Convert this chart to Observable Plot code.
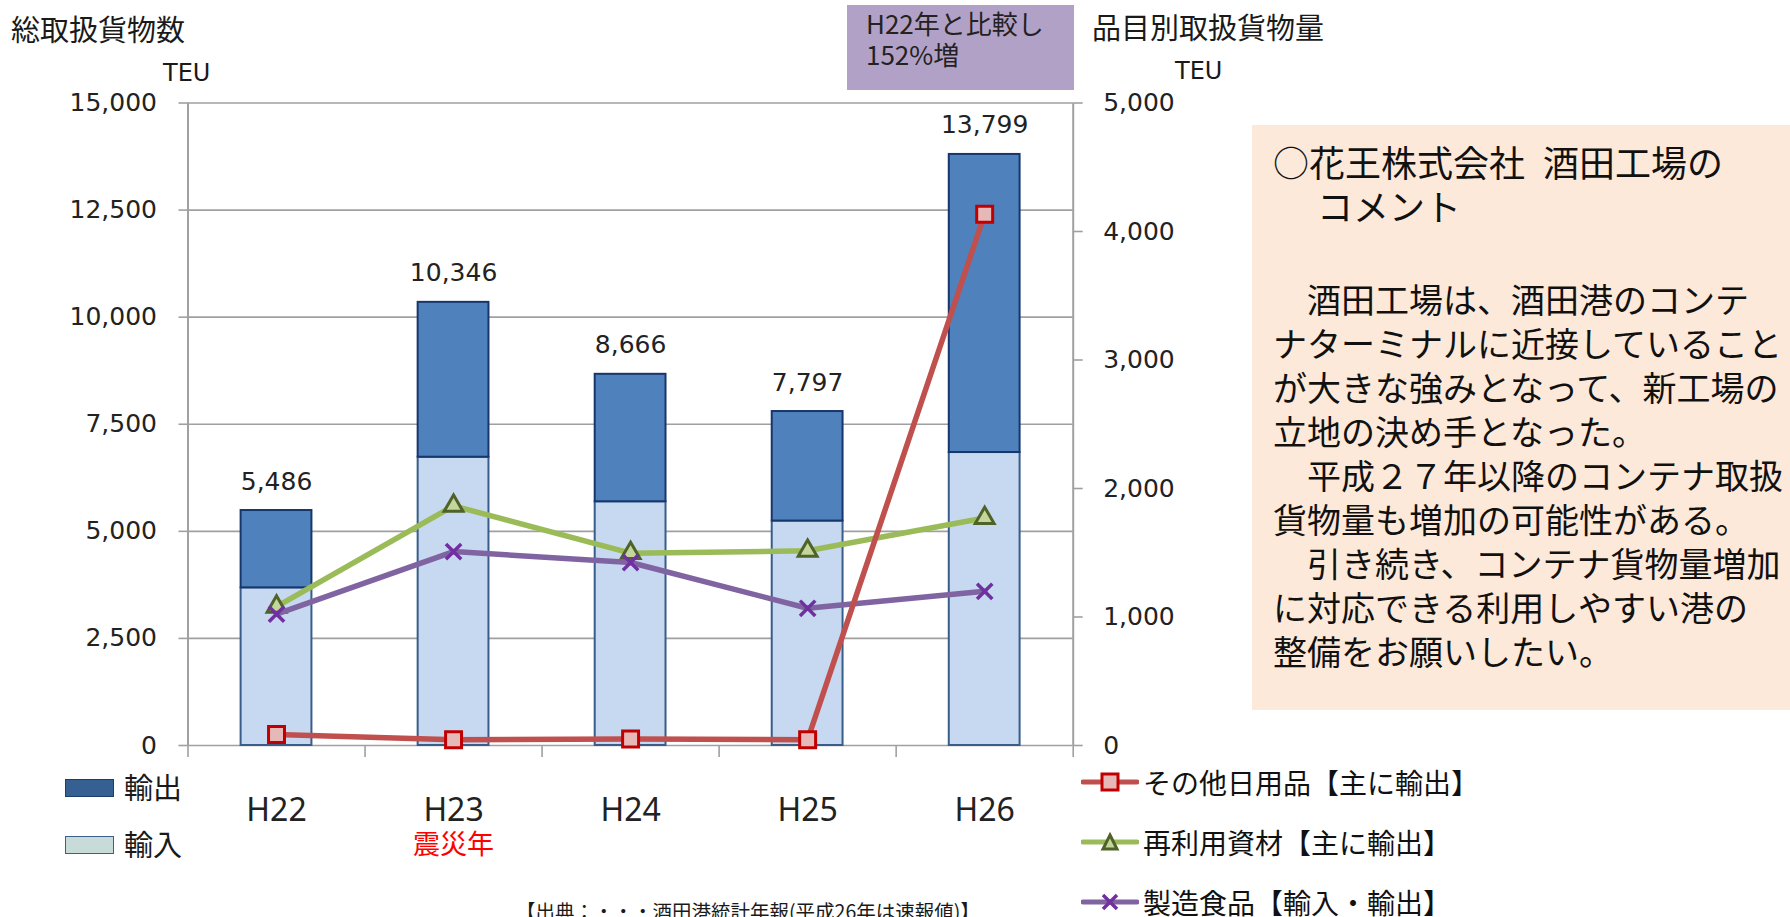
<!DOCTYPE html>
<html lang="ja">
<head>
<meta charset="utf-8">
<script src="https://cdn.jsdelivr.net/npm/d3@7"></script>
<script src="https://cdn.jsdelivr.net/npm/@observablehq/plot@0.6"></script>
<style>
  html, body { margin: 0; padding: 0; background: #fff; }
  #wrap { position: relative; width: 1790px; height: 917px; overflow: hidden; background: #fff; }
  #chart { position: absolute; left: 0; top: 0; }
  .abs { position: absolute; white-space: pre; color: #1a1a1a; }
  .jp { font-family: "Noto Sans CJK JP", "Noto Sans", sans-serif; }
  .dv { font-family: "DejaVu Sans", sans-serif; }
  #note { position: absolute; left: 847px; top: 5px; width: 227px; height: 85px; background: #b2a1c7;
          box-sizing: border-box; padding: 2px 0 0 19px; font-size: 26px; line-height: 31px; color: #222; }
  #comment { position: absolute; left: 1252px; top: 125px; width: 538px; height: 585px; background: #fde9d9;
             box-sizing: border-box; padding: 14px 0 0 21px; font-size: 34px; line-height: 44px; color: #111; }
  #comment div { white-space: pre; height: 44px; }
  #comment div.head { font-size: 36px; }
  #comment div.blank { height: 50px; }
  .sw { position: absolute; width: 49px; height: 18px; box-sizing: border-box; }
  .leg { position: absolute; display: flex; align-items: center; height: 40px; }
  .leg svg { display: block; }
  .leg span { font-size: 28px; line-height: 28px; margin-left: 4px; color: #111; white-space: pre; }
</style>
</head>
<body>
<div id="wrap">
  <div id="chart"></div>
</div>
<script>
// ---------- data ----------
const categories = ["H22", "H23", "H24", "H25", "H26"];
const importTEU  = [3680, 6730, 5690, 5240, 6840];   // 輸入
const exportTEU  = [1806, 3616, 2976, 2557, 6959];   // 輸出
const totalTEU   = [5486, 10346, 8666, 7797, 13799]; // 総取扱貨物数

const dailyGoods = [85, 45, 50, 45, 4135];           // その他日用品【主に輸出】
const recycled   = [1080, 1865, 1497, 1515, 1770];   // 再利用資材【主に輸出】
const foods      = [1023, 1509, 1424, 1068, 1200];   // 製造食品【輸入・輸出】

const leftTicks  = [0, 2500, 5000, 7500, 10000, 12500, 15000];
const rightTicks = [0, 1000, 2000, 3000, 4000, 5000];
const leftMax = 15000, rightMax = 5000;
const ratio = leftMax / rightMax;

const notes = [{category: "H23", text: "震災年"}];

const lineSeries = [
  {name: "再利用資材【主に輸出】", values: recycled, color: "#9bbb59", symbol: "triangle", fill: "#c3d69b", mstroke: "#4f6228"},
  {name: "製造食品【輸入・輸出】", values: foods, color: "#8064a2", symbol: "times", fill: "none", mstroke: "#7030a0"},
  {name: "その他日用品【主に輸出】", values: dailyGoods, color: "#c0504d", symbol: "square", fill: "#e6b9b8", mstroke: "#c00000"}
];

// ---------- chart ----------
const idx = categories.map((c, i) => i);
const fmt = d3.format(",");
const grey = "#a0a0a0";

const marks = [
  Plot.ruleY(leftTicks, {stroke: grey, strokeWidth: 1.6}),
  Plot.ruleX([0, categories.length], {stroke: grey, strokeWidth: 2}),
  Plot.axisY({anchor: "left", ticks: leftTicks, tickSize: 9, tickPadding: 22, tickFormat: fmt,
              stroke: grey, strokeWidth: 1.6, fill: "#222", fontSize: 25, label: null}),
  Plot.axisY({anchor: "right", ticks: rightTicks.map(v => v * ratio), tickSize: 9, tickPadding: 21,
              tickFormat: d => fmt(d / ratio), stroke: grey, strokeWidth: 1.6, fill: "#222", fontSize: 25, label: null}),
  Plot.axisX({ticks: d3.range(categories.length + 1), tickSize: 12, tickFormat: () => "",
              stroke: grey, strokeWidth: 1.6, label: null}),
  Plot.axisX({ticks: idx.map(i => i + 0.5), tickSize: 0, tickPadding: 53,
              tickFormat: v => categories[Math.round(v - 0.5)], fill: "#222",
              fontFamily: "Noto Sans", fontSize: 32, label: null}),
  Plot.text(notes, {x: d => categories.indexOf(d.category) + 0.5, y: 0, text: "text", dy: 100,
                    fill: "#ff0000", fontFamily: "Noto Sans CJK JP", fontSize: 27}),
  // stacked bars
  Plot.rect(idx, {x1: i => i + 0.3, x2: i => i + 0.7, y1: 0, y2: i => importTEU[i],
                  fill: "#c6d9f1", stroke: "#385d8a", strokeWidth: 2}),
  Plot.rect(idx, {x1: i => i + 0.3, x2: i => i + 0.7, y1: i => importTEU[i], y2: i => importTEU[i] + exportTEU[i],
                  fill: "#4f81bd", stroke: "#17366b", strokeWidth: 2}),
  Plot.text(idx, {x: i => i + 0.5, y: i => totalTEU[i], text: i => fmt(totalTEU[i]), dy: -29,
                  fill: "#222", fontSize: 25, fontFamily: "DejaVu Sans"})
];

for (const s of lineSeries) {
  marks.push(Plot.line(idx, {x: i => i + 0.5, y: i => s.values[i] * ratio, stroke: s.color, strokeWidth: 5.5,
                             strokeLinejoin: "round"}));
  marks.push(Plot.dot(idx, {x: i => i + 0.5, y: i => s.values[i] * ratio, symbol: s.symbol,
                            r: s.symbol === "square" ? 9 : 7, fill: s.fill, stroke: s.mstroke,
                            strokeWidth: s.symbol === "times" ? 3.5 : 3}));
}

const chart = Plot.plot({
  width: 1790, height: 917,
  marginLeft: 187.5, marginRight: 717.3, marginTop: 102.5, marginBottom: 172,
  x: {type: "linear", domain: [0, categories.length], axis: null},
  y: {type: "linear", domain: [0, leftMax], axis: null},
  style: {fontFamily: "DejaVu Sans", fontSize: "25px", background: "transparent", overflow: "visible", color: "#222"},
  marks
});
document.getElementById("chart").appendChild(chart);

// ---------- text overlays & legends ----------
const wrap = document.getElementById("wrap");
function addText(txt, cls, left, top, size, extra) {
  const d = document.createElement("div");
  d.className = "abs " + cls;
  d.textContent = txt;
  d.style.left = left + "px";
  d.style.top = top + "px";
  d.style.fontSize = size + "px";
  d.style.lineHeight = size + "px";
  if (extra) Object.assign(d.style, extra);
  wrap.appendChild(d);
  return d;
}
addText("総取扱貨物数", "jp", 11, 14, 29);
addText("品目別取扱貨物量", "jp", 1092, 12, 29);
addText("TEU", "dv", 163, 61, 24);
addText("TEU", "dv", 1175, 59, 24);

const note = document.createElement("div");
note.id = "note"; note.className = "jp";
note.innerHTML = "H22年と比較し<br>152%増";
wrap.appendChild(note);

const commentLines = [
  "○花王株式会社\u2002酒田工場の",
  "　 コメント",
  "",
  "　酒田工場は、酒田港のコンテ",
  "ナターミナルに近接していること",
  "が大きな強みとなって、新工場の",
  "立地の決め手となった。",
  "　平成２７年以降のコンテナ取扱",
  "貨物量も増加の可能性がある。",
  "　引き続き、コンテナ貨物量増加",
  "に対応できる利用しやすい港の",
  "整備をお願いしたい。"
];
const comment = document.createElement("div");
comment.id = "comment"; comment.className = "jp";
commentLines.forEach((l, k) => {
  const d = document.createElement("div");
  if (l === "") d.className = "blank";
  else if (k < 2) d.className = "head";
  d.textContent = l;
  comment.appendChild(d);
});
wrap.appendChild(comment);

// left legend (bars)
const barLegend = [
  {name: "輸出", fill: "#376092", stroke: "#1f3d6b", top: 779},
  {name: "輸入", fill: "#c7dbd9", stroke: "#3d5f8c", top: 836}
];
for (const b of barLegend) {
  const sw = document.createElement("div");
  sw.className = "sw";
  sw.style.left = "65px"; sw.style.top = b.top + "px";
  sw.style.background = b.fill; sw.style.border = "1.5px solid " + b.stroke;
  wrap.appendChild(sw);
  addText(b.name, "jp", 124, b.top - 7, 29);
}

// right legend (lines)
const legendOrder = [lineSeries[2], lineSeries[0], lineSeries[1]];
const legendTops = [762, 822, 882];
legendOrder.forEach((s, k) => {
  const g = document.createElement("div");
  g.className = "leg jp";
  g.style.left = "1081px"; g.style.top = legendTops[k] + "px";
  let marker = "";
  if (s.symbol === "square") marker = `<rect x="21" y="11" width="16" height="16" fill="${s.fill}" stroke="${s.mstroke}" stroke-width="3"/>`;
  if (s.symbol === "triangle") marker = `<path d="M29,12 L36,26 L22,26 Z" fill="${s.fill}" stroke="${s.mstroke}" stroke-width="3"/>`;
  if (s.symbol === "times") marker = `<path d="M22,12 L36,26 M36,12 L22,26" stroke="${s.mstroke}" stroke-width="3.5"/>`;
  g.innerHTML = `<svg width="58" height="38"><line x1="2" y1="19" x2="56" y2="19" stroke="${s.color}" stroke-width="5" stroke-linecap="round"/>${marker}</svg><span>${s.name}</span>`;
  wrap.appendChild(g);
});

addText("【出典：・・・酒田港統計年報(平成26年は速報値)】", "jp", 516, 901, 19.5);
</script>
</body>
</html>
